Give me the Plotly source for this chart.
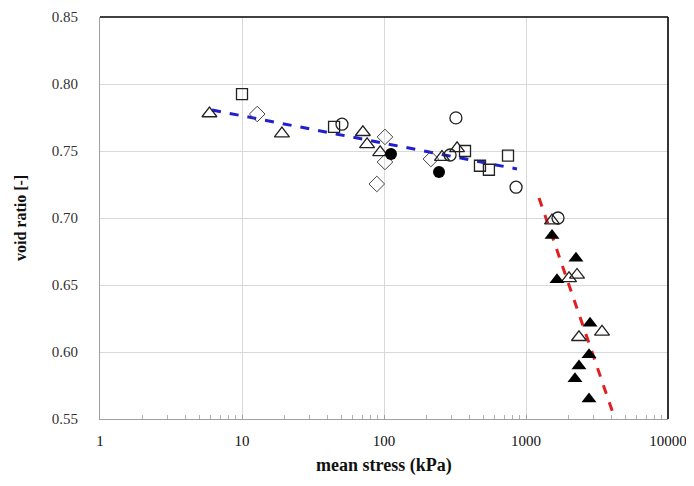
import plotly.graph_objects as go

# open triangles
tri_open_x = [5.9, 19.1, 71, 76, 94, 256, 327, 1525, 2009, 2287, 2361, 3430]
tri_open_y = [0.778, 0.763, 0.764, 0.755, 0.749, 0.7455, 0.752, 0.698, 0.655, 0.6575, 0.611, 0.615]
# filled triangles
tri_fill_x = [1525, 2249, 1653, 2824, 2778, 2361, 2213, 2778]
tri_fill_y = [0.687, 0.670, 0.654, 0.6215, 0.598, 0.5896, 0.580, 0.565]
# open squares
sq_x = [10, 44.5, 372, 474, 548, 747]
sq_y = [0.7925, 0.768, 0.750, 0.739, 0.736, 0.7465]
# open circles
circ_x = [50.6, 292, 321, 851, 1680]
circ_y = [0.770, 0.747, 0.7747, 0.723, 0.700]
# filled circles
circf_x = [112, 244]
circf_y = [0.7478, 0.7344]
# open diamonds
dia_x = [12.8, 89, 101.6, 101.6, 214]
dia_y = [0.7776, 0.7254, 0.7605, 0.7418, 0.744]
# fitted lines
blue_x = [6.15, 864]
blue_y = [0.7806, 0.7366]
red_x = [1235, 4300]
red_y = [0.715, 0.548]

xtick_vals = [1, 10, 100, 1000, 10000]
xtick_text = ["1", "10", "100", "1000", "10000"]
ytick_vals = [0.55, 0.60, 0.65, 0.70, 0.75, 0.80, 0.85]

fig = go.Figure()
fig.add_trace(go.Scatter(x=blue_x, y=blue_y, mode="lines",
                         line=dict(color="#1f1fd0", width=3, dash="dash")))
fig.add_trace(go.Scatter(x=red_x, y=red_y, mode="lines",
                         line=dict(color="#e02020", width=3, dash="dash")))

mk_line = dict(color="#222222", width=1.3)
fig.add_trace(go.Scatter(x=sq_x, y=sq_y, mode="markers",
                         marker=dict(symbol="square-open", size=11, color="#222222", line=mk_line)))
fig.add_trace(go.Scatter(x=dia_x, y=dia_y, mode="markers",
                         marker=dict(symbol="diamond-open", size=12, color="#444444", line=dict(color="#444444", width=1))))
fig.add_trace(go.Scatter(x=circ_x, y=circ_y, mode="markers",
                         marker=dict(symbol="circle-open", size=12, color="#222222", line=mk_line)))
fig.add_trace(go.Scatter(x=tri_open_x, y=tri_open_y, mode="markers",
                         marker=dict(symbol="triangle-up-open", size=13, color="#222222", line=mk_line)))
fig.add_trace(go.Scatter(x=circf_x, y=circf_y, mode="markers",
                         marker=dict(symbol="circle", size=12, color="#000000")))
fig.add_trace(go.Scatter(x=tri_fill_x, y=tri_fill_y, mode="markers",
                         marker=dict(symbol="triangle-up", size=13, color="#000000")))

font_family = "Liberation Serif"
fig.update_layout(
    width=686, height=478,
    margin=dict(l=92, r=26, t=9, b=67, autoexpand=False),
    paper_bgcolor="white", plot_bgcolor="white",
    showlegend=False,
    font=dict(family=font_family, color="#222222"),
    xaxis=dict(
        type="log", range=[0, 4], automargin=False,
        tickvals=xtick_vals, ticktext=xtick_text,
        tickfont=dict(size=15, color="#111111", family=font_family),
        ticklabelstandoff=8,
        showgrid=True, gridcolor="#d9d9d9", gridwidth=1,
        showline=True, linecolor="#a0a0a0", linewidth=1, mirror=False,
        ticks="inside", ticklen=4, tickcolor="#a0a0a0",
        minor=dict(ticks="inside", ticklen=4, tickcolor="#b0b0b0", dtick="D1", showgrid=False),
        zeroline=False,
    ),
    yaxis=dict(
        range=[0.55, 0.85], automargin=False,
        tickvals=ytick_vals, tickformat=".2f",
        tickfont=dict(size=15, color="#333333", family=font_family),
        ticklabelstandoff=18,
        showgrid=True, gridcolor="#d9d9d9", gridwidth=1,
        showline=True, linecolor="#a0a0a0", linewidth=1, mirror=False,
        ticks="", ticklen=0, zeroline=False,
    ),
    shapes=[
        dict(type="line", xref="paper", yref="paper", x0=0, x1=1, y0=1, y1=1,
             line=dict(color="#000000", width=1.6)),
        dict(type="line", xref="paper", yref="paper", x0=1, x1=1, y0=0, y1=1,
             line=dict(color="#000000", width=1.6)),
    ],
    annotations=[
        dict(text="<b>mean stress (kPa)</b>", xref="paper", yref="paper",
             x=0.5, y=0, yshift=-46, yanchor="middle", showarrow=False,
             font=dict(size=18, color="#111111", family=font_family)),
        dict(text="<b>void ratio [-]</b>", xref="paper", yref="paper",
             x=0, xshift=-80, y=0.5, textangle=-90, xanchor="center", yanchor="middle",
             showarrow=False, font=dict(size=16, color="#111111", family=font_family)),
    ],
)

fig.write_html("out.html")
